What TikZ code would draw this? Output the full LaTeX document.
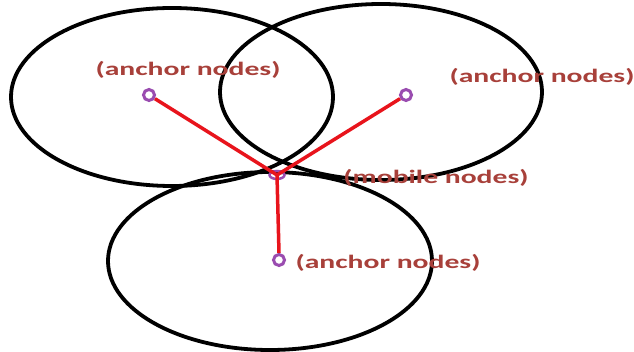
\documentclass[tikz,border=0pt]{standalone}
\usepackage{fontspec}
\setmainfont{Carlito}
\usetikzlibrary{shapes.geometric}
\definecolor{lbl}{HTML}{A8403A}
\definecolor{nodepurple}{HTML}{9A4CB0}
\definecolor{linkred}{HTML}{E8141C}
\begin{document}
\begin{tikzpicture}[x=1pt,y=-1pt,
  coverage/.style={draw=black,line width=3.8pt},
  sensor/.style={circle,draw=nodepurple,line width=3pt,minimum size=11pt,inner sep=0pt,fill=white},
  mobilenode/.style={ellipse,draw=nodepurple,line width=2.5pt,minimum width=15pt,minimum height=8pt,inner sep=0pt},
  link/.style={draw=linkred,line width=3.5pt},
  lab/.style={text=lbl,font=\bfseries\fontsize{19}{21}\selectfont,inner sep=0pt}]
\useasboundingbox (0,0) rectangle (634,352);
\fill[white] (0,0) rectangle (634,352);
% coverage ranges
\draw[coverage] (172,97) ellipse [x radius=161,y radius=89];
\draw[coverage] (381,92) ellipse [x radius=161,y radius=88];
\draw[coverage] (270,261) ellipse [x radius=162,y radius=89];
% nodes
\node[mobilenode] (mob) at (277,175) {};
\node[sensor] (a1) at (149,95) {};
\node[sensor] (a2) at (406,95) {};
\node[sensor] (a3) at (279,260) {};
\draw[link] (a1) -- (mob.center);
\draw[link] (a2) -- (mob.center);
\draw[link] (a3.north) -- (mob.center);
% labels
\node[lab] (l1) at (188,70) {\scalebox{1.56}[1]{(anchor nodes)}};
\node[lab] (l2) at (542,77) {\scalebox{1.56}[1]{(anchor nodes)}};
\node[lab] (l3) at (436,178) {\scalebox{1.56}[1]{(mobile nodes)}};
\node[lab] (l4) at (388,263) {\scalebox{1.56}[1]{(anchor nodes)}};
\end{tikzpicture}
\end{document}
